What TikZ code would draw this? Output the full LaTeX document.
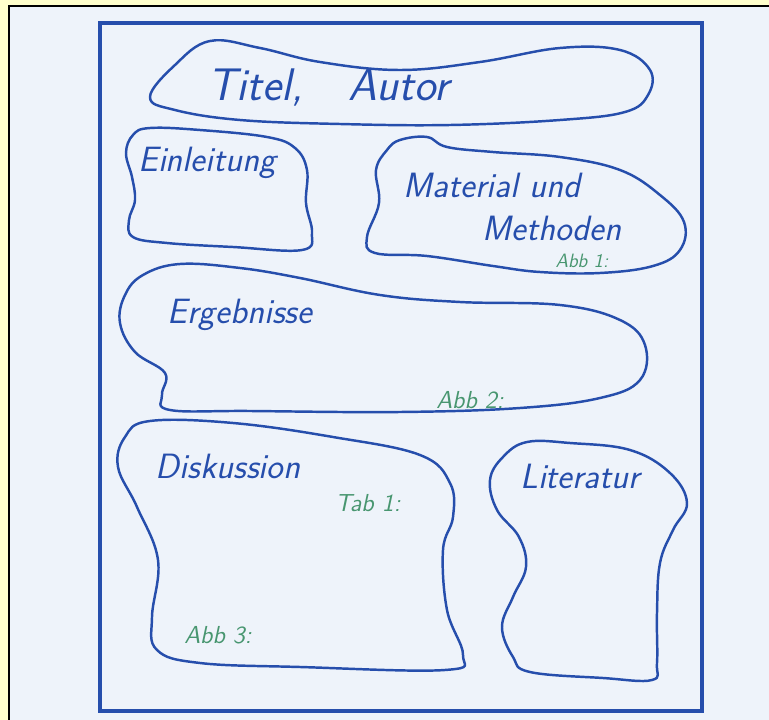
\documentclass[tikz,border=0pt]{standalone}
\usetikzlibrary{positioning}
\definecolor{pen}{RGB}{38,78,172}
\definecolor{marker}{RGB}{72,150,112}
\definecolor{paper}{RGB}{238,243,250}
\definecolor{pad}{RGB}{255,255,204}
\begin{document}
\begin{tikzpicture}[x=0.02cm,y=-0.02cm,
    blob/.style={draw=pen,line width=1.4pt,line join=round,line cap=round},
    hand/.style={text=pen,inner sep=0pt,font=\sffamily\itshape\fontsize{20}{24}\selectfont},
    note/.style={text=marker,inner sep=0pt,font=\sffamily\itshape\fontsize{14}{16}\selectfont}]
        \useasboundingbox (0,0) rectangle (769,720);
        \fill[pad] (0,0) rectangle (769,720);
        \fill[paper] (9,6) rectangle (769,720);
        \draw[black,line width=1.2pt] (9,720) -- (9,6) -- (769,6);
        \draw[pen,line width=1.8pt] (100,23) rectangle (702,711);

        % Titel
        \draw[blob] plot[smooth cycle,tension=0.65] coordinates {(150,97) (175,65) (210,41) (260,48) (320,62) (400,70) (480,62) (560,48) (620,50) (650,70) (648,95) (625,112) (560,120) (450,125) (340,124) (240,120) (175,110)};
        % Einleitung
        \draw[blob] plot[smooth cycle,tension=0.65] coordinates {(133,135) (150,128) (200,130) (267,137) (295,148) (307,170) (306,203) (312,233) (302,250) (233,247) (167,243) (133,237) (129,220) (135,200) (132,177) (126,153)};
        % Material und Methoden
        \draw[blob] plot[smooth cycle,tension=0.65] coordinates {(387,150) (400,140) (427,137) (447,147) (493,152) (560,157) (620,170) (660,195) (684,222) (680,250) (653,266) (600,273) (540,272) (493,266) (427,256) (375,253) (367,237) (379,203) (376,170)};
        % Ergebnisse
        \draw[blob] plot[smooth cycle,tension=0.65] coordinates {(143,275) (180,264) (240,268) (300,278) (380,295) (460,302) (560,305) (620,320) (645,345) (640,380) (600,398) (520,408) (400,412) (250,411) (170,410) (162,395) (165,373) (135,352) (120,323) (125,295)};
        % Diskussion
        \draw[blob] plot[smooth cycle,tension=0.65] coordinates {(150,421) (233,423) (333,437) (420,455) (450,483) (453,517) (443,550) (447,610) (463,655) (445,670) (300,667) (200,663) (157,650) (152,617) (158,560) (137,507) (118,467) (125,437)};
        % Literatur
        \draw[blob] plot[smooth cycle,tension=0.65] coordinates {(527,442) (570,443) (630,450) (670,473) (687,503) (673,530) (660,563) (657,613) (657,663) (652,680) (603,678) (530,672) (513,657) (502,627) (513,597) (526,567) (519,537) (497,510) (490,480) (503,457)};

        \node[hand,font=\sffamily\itshape\fontsize{26}{30}\selectfont] (titel) at (328,88) {Titel,\quad Autor};
        \node[hand] (einl) at (207,163) {Einleitung};
        \node[hand] (mat) at (492,185) {Material und};
        \node[hand] (meth) at (552,228) {Methoden};
        \node[hand] (erg) at (240,315) {Ergebnisse};
        \node[hand] (disk) at (228,466) {Diskussion};
        \node[hand] (lit) at (580,476) {Literatur};
        \node[note,font=\sffamily\itshape\fontsize{11}{13}\selectfont] (abb1) at (582,261) {Abb 1:};
        \node[note] (abb2) at (470,400) {Abb 2:};
        \node[note] (tab1) at (368,503) {Tab 1:};
        \node[note] (abb3) at (218,635) {Abb 3:};
\end{tikzpicture}
\end{document}
